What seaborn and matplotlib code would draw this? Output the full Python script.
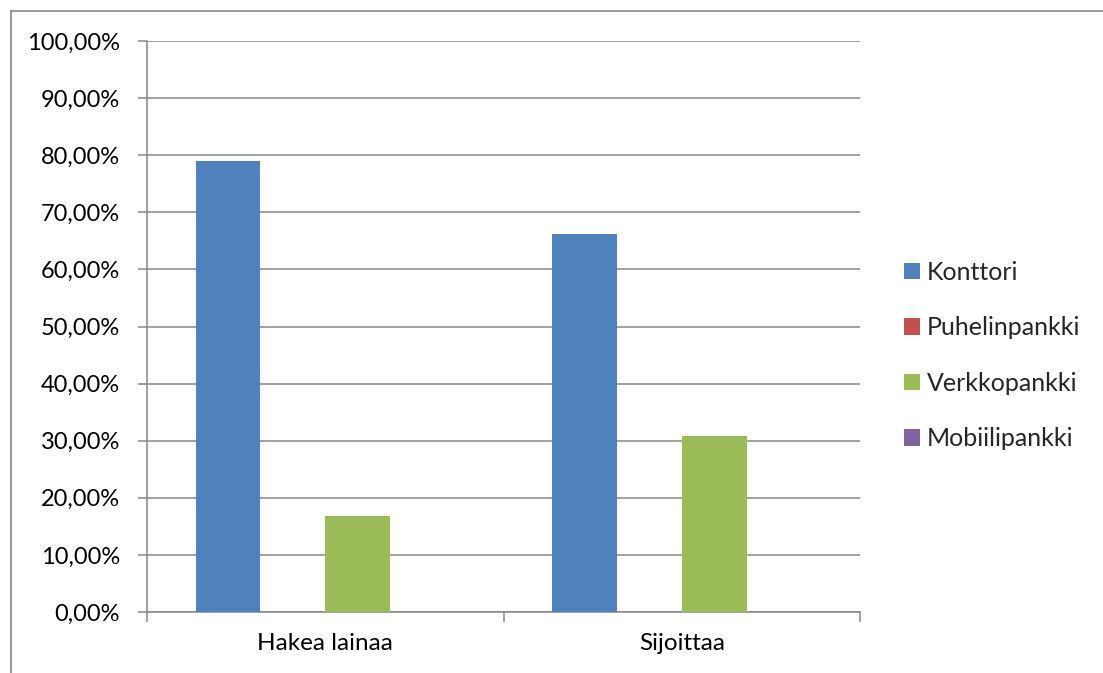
import matplotlib
matplotlib.use("Agg")
import matplotlib.pyplot as plt
import matplotlib.lines as mlines
from matplotlib.ticker import FuncFormatter, MultipleLocator, FixedLocator
import seaborn as sns
import pandas as pd

categories = ["Hakea lainaa", "Sijoittaa"]
series = ["Konttori", "Puhelinpankki", "Verkkopankki", "Mobiilipankki"]
konttori = [78.9, 66.2]
puhelinpankki = [0.0, 0.0]
verkkopankki = [16.8, 30.9]
mobiilipankki = [0.0, 0.0]
colors = ["#4F81BD", "#C0504D", "#9BBB59", "#8064A2"]

rows = []
for name, vals in zip(series, [konttori, puhelinpankki, verkkopankki, mobiilipankki]):
    for cat, v in zip(categories, vals):
        rows.append({"Kategoria": cat, "Sarja": name, "Arvo": v})
df = pd.DataFrame(rows)

sns.set_style("white")
plt.rcParams["font.family"] = ["Lato", "DejaVu Sans"]

W, H = 1103, 673
fig = plt.figure(figsize=(W / 100, H / 100), dpi=100)
ax = fig.add_axes([147 / W, (H - 612) / H, 713 / W, 571 / H])

sns.barplot(data=df, x="Kategoria", y="Arvo", hue="Sarja", order=categories,
            hue_order=series, palette=colors, width=4 / 5.5, gap=0,
            linewidth=0, saturation=1, ax=ax, legend=True, zorder=3)

grid_c = "#878787"
ax.set_ylim(0, 100)
ax.set_xlim(-0.5, 1.5)
ax.yaxis.set_major_locator(MultipleLocator(10))
ax.yaxis.set_major_formatter(FuncFormatter(lambda v, p: f"{v:.2f}".replace(".", ",") + "%"))
ax.grid(axis="y", color=grid_c, linewidth=1.1, zorder=0)
ax.set_axisbelow(True)
ax.set_xlabel("")
ax.set_ylabel("")
for s in ["top", "right"]:
    ax.spines[s].set_visible(False)
for s in ["left", "bottom"]:
    ax.spines[s].set_color(grid_c)
    ax.spines[s].set_linewidth(1.1)

ax.tick_params(axis="y", which="major", length=6.5, width=1.1, color=grid_c,
               labelsize=17, pad=13, labelcolor="black", left=True)
ax.xaxis.set_minor_locator(FixedLocator([-0.5, 0.5, 1.5]))
ax.tick_params(axis="x", which="major", length=0, labelsize=17.5, pad=15, labelcolor="black")
ax.tick_params(axis="x", which="minor", length=7, width=1.1, color=grid_c, bottom=True)

handles, labels = ax.get_legend_handles_labels()
ax.legend_.remove()
fig.legend(handles, labels, loc="center left",
           bbox_to_anchor=(904 / W, (H - 355.5) / H), frameon=False,
           fontsize=18, handlelength=0.62, handleheight=0.62, handletextpad=0.3,
           labelspacing=1.3, borderpad=0, borderaxespad=0)

border_c = "#888888"
fig.add_artist(mlines.Line2D([11 / W, 1], [1 - 11 / H, 1 - 11 / H], color=border_c, lw=1.2,
                             transform=fig.transFigure))
fig.add_artist(mlines.Line2D([11 / W, 11 / W], [0, 1 - 11 / H], color=border_c, lw=1.2,
                             transform=fig.transFigure))

fig.savefig("out.png", dpi=100, facecolor="white")
